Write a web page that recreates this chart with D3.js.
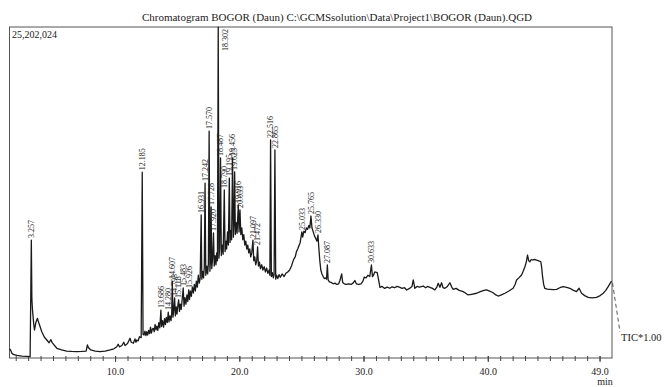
<!DOCTYPE html>
<html>
<head>
<meta charset="utf-8">
<script src="https://cdn.jsdelivr.net/npm/d3@7"></script>
<style>
  html, body { margin: 0; padding: 0; background: #fff; }
  svg { display: block; }
</style>
</head>
<body>
<div id="chart"></div>
<script>
const chartTitle = 'Chromatogram BOGOR (Daun) C:\\GCMSsolution\\Data\\Project1\\BOGOR (Daun).QGD'
const fullScale = 25202024 // counts at top of frame
const timeRange = [1.5, 50.0] // min
const majorTicks = [10, 20, 30, 40, 49]
const majorTickLabels = ['10.0', '20.0', '30.0', '40.0', '49.0']
const traceName = 'TIC*1.00'

// TIC trace: [retention time (min), intensity (x10^6 counts)]
const ticSolvent = [
  [1.50, 0.70], [1.58, 0.62], [1.70, 0.35], [1.85, 0.25], [2.10, 0.20], [2.50, 0.15], [2.90, 0.12],
  [3.16, 0.10], [3.257, 8.98], [3.30, 4.50], [3.35, 3.65], [3.45, 2.60], [3.51, 2.13], [3.62, 2.70],
  [3.75, 3.02], [3.85, 2.70], [4.10, 2.00], [4.30, 1.60], [4.50, 1.37], [4.69, 1.16], [4.83, 1.40],
  [4.95, 1.15], [5.31, 0.74], [5.70, 0.62], [6.10, 0.53], [6.50, 0.50], [6.92, 0.48], [7.30, 0.50],
  [7.67, 0.53], [7.77, 0.99], [7.85, 0.80], [8.04, 0.61], [8.40, 0.52], [8.79, 0.48], [9.20, 0.52],
  [9.60, 0.61], [9.90, 0.70], [10.14, 0.86], [10.25, 1.05], [10.35, 0.85], [10.55, 0.95], [10.70, 1.20],
  [10.80, 0.95], [11.00, 1.10], [11.20, 1.50], [11.30, 1.20], [11.47, 1.12], [11.60, 1.45], [11.68, 1.20],
  [11.75, 1.37], [11.85, 1.30], [11.96, 1.62], [12.10, 1.55],
]
const ticRising = [
  [12.185, 14.15], [12.25, 1.80], [12.33, 1.75], [12.40, 2.05], [12.48, 1.70], [12.55, 2.00], [12.62, 1.75],
  [12.70, 2.10], [12.78, 1.85], [12.85, 2.35], [12.92, 1.90], [13.00, 2.20], [13.08, 2.26], [13.15, 2.00],
  [13.22, 2.55], [13.30, 2.15], [13.36, 2.43], [13.44, 2.10], [13.52, 2.70], [13.60, 2.30], [13.686, 3.65],
  [13.74, 2.40], [13.82, 2.85], [13.90, 2.35], [13.98, 3.00], [14.05, 2.55], [14.12, 3.10], [14.20, 2.70],
  [14.280, 3.50], [14.34, 2.75], [14.42, 3.20], [14.50, 2.85], [14.56, 3.45], [14.607, 5.86], [14.66, 3.10],
  [14.72, 3.60], [14.793, 4.57], [14.85, 3.20], [14.92, 3.90], [14.98, 3.35], [15.05, 4.00], [15.118, 4.42],
  [15.18, 3.55], [15.25, 4.10], [15.32, 3.70], [15.40, 4.45], [15.483, 5.33], [15.55, 3.95], [15.62, 4.60],
  [15.70, 4.10], [15.78, 4.80], [15.85, 4.30], [15.926, 5.18], [15.99, 4.45], [16.06, 5.10], [16.14, 4.70],
  [16.22, 5.40], [16.30, 4.95], [16.38, 5.60], [16.46, 5.10], [16.54, 5.85], [16.62, 5.40], [16.70, 6.30],
  [16.78, 5.70], [16.85, 6.10],
]
const ticCluster = [
  [16.931, 10.89], [16.98, 6.00], [17.05, 6.60], [17.12, 6.10], [17.18, 6.90], [17.242, 13.32], [17.30, 6.30],
  [17.38, 7.00], [17.45, 6.40], [17.51, 7.20], [17.570, 17.28], [17.63, 6.60], [17.68, 7.40], [17.728, 11.50],
  [17.78, 6.80], [17.85, 7.60], [17.920, 9.52], [17.98, 7.00], [18.05, 7.80], [18.12, 7.10], [18.18, 8.00],
  [18.24, 7.40], [18.302, 25.20], [18.36, 7.60], [18.42, 8.40], [18.487, 15.23], [18.55, 7.80], [18.62, 8.60],
  [18.70, 7.90], [18.790, 12.79], [18.85, 8.10], [18.92, 8.90], [18.98, 8.30], [19.05, 9.60], [19.12, 8.60],
  [19.195, 13.70], [19.25, 8.80], [19.32, 9.70], [19.38, 9.00], [19.456, 15.23], [19.52, 9.20], [19.57, 10.20],
  [19.625, 14.16], [19.68, 9.40], [19.75, 10.30], [19.82, 9.50], [19.916, 11.65], [19.98, 9.60], [20.053, 11.27],
  [20.12, 9.40], [20.20, 9.90], [20.28, 9.00], [20.36, 9.40], [20.44, 8.60], [20.52, 8.90], [20.60, 8.30],
  [20.68, 8.60], [20.76, 8.00], [20.84, 8.30], [20.92, 7.70], [21.00, 8.00], [21.097, 8.98], [21.16, 7.40],
  [21.24, 7.70], [21.32, 7.10], [21.40, 7.40], [21.472, 8.45], [21.54, 7.00], [21.62, 7.30], [21.70, 6.80],
  [21.80, 7.10], [21.90, 6.70], [22.00, 6.95], [22.10, 6.55], [22.20, 6.85], [22.30, 6.45], [22.40, 6.70],
  [22.46, 6.30], [22.516, 16.60], [22.58, 6.20], [22.66, 6.50], [22.74, 6.10], [22.80, 6.35], [22.865, 15.84],
  [22.93, 6.00], [23.00, 6.30], [23.10, 6.05], [23.20, 6.35],
]
const ticMiddle = [
  [23.30, 6.15], [23.45, 6.40], [23.60, 6.20], [23.75, 6.45], [23.90, 6.55], [24.05, 6.70], [24.20, 7.00],
  [24.30, 7.30], [24.40, 7.55], [24.50, 7.70], [24.60, 8.10], [24.70, 8.30], [24.80, 8.55], [24.90, 8.80],
  [25.033, 9.60], [25.10, 9.20], [25.20, 9.65], [25.30, 9.55], [25.40, 9.90], [25.50, 9.80], [25.60, 10.10],
  [25.68, 9.90], [25.765, 10.81], [25.85, 9.90], [25.95, 9.60], [26.05, 9.30], [26.15, 9.10], [26.25, 8.90],
  [26.330, 9.37], [26.40, 8.40], [26.48, 7.40], [26.56, 6.70], [26.65, 6.40], [26.75, 6.20], [26.85, 6.05],
  [26.95, 6.10], [27.02, 6.00], [27.087, 7.08], [27.15, 5.95], [27.25, 5.80], [27.40, 5.75], [27.55, 5.65],
  [27.70, 5.70], [27.85, 5.60], [28.00, 5.65], [28.10, 5.90], [28.24, 6.40], [28.32, 5.75], [28.45, 5.65],
  [28.60, 5.60], [28.80, 5.65], [29.00, 5.60], [29.15, 5.70], [29.30, 5.90], [29.42, 5.65], [29.60, 5.60],
  [29.80, 5.65], [29.95, 5.85], [30.05, 6.15], [30.20, 6.10], [30.35, 6.30], [30.50, 6.20], [30.633, 7.08],
  [30.72, 6.20], [30.80, 6.30], [30.90, 6.55], [31.10, 6.50], [31.20, 6.00],
]
const ticLate = [
  [31.32, 5.38], [31.50, 5.45], [31.70, 5.30], [31.90, 5.40], [32.12, 5.31], [32.30, 5.42], [32.50, 5.35],
  [32.70, 5.45], [32.93, 5.38], [33.10, 5.30], [33.30, 5.35], [33.47, 5.18], [33.70, 5.30], [33.90, 5.45],
  [34.00, 5.94], [34.13, 5.31], [34.30, 5.45], [34.50, 5.40], [34.80, 5.48], [35.00, 5.35], [35.15, 5.45],
  [35.34, 5.38], [35.55, 5.30], [35.74, 5.18], [35.90, 5.40], [36.01, 5.69], [36.15, 5.38], [36.28, 5.73],
  [36.40, 5.35], [36.55, 5.31], [36.75, 5.45], [36.95, 5.73], [37.10, 5.40], [37.22, 5.23], [37.45, 5.30],
  [37.70, 5.15], [38.02, 5.05], [38.20, 4.95], [38.42, 4.80], [38.70, 4.85], [39.10, 4.93], [39.40, 5.05],
  [39.70, 5.15], [39.90, 5.18], [40.15, 5.10], [40.43, 4.97], [40.65, 4.80], [40.84, 4.72], [41.10, 4.80],
  [41.38, 4.93], [41.70, 5.10], [42.04, 5.31], [42.20, 5.60], [42.32, 5.94], [42.50, 6.10], [42.72, 6.32],
  [42.85, 6.60], [42.99, 6.95], [43.10, 7.30], [43.20, 7.84], [43.30, 7.40], [43.39, 7.33], [43.50, 7.50],
  [43.60, 7.46], [43.75, 7.50], [43.93, 7.46], [44.10, 7.40], [44.27, 7.33], [44.35, 6.80], [44.41, 6.19],
  [44.50, 5.60], [44.59, 5.31], [44.80, 5.25], [45.00, 5.23], [45.25, 5.20], [45.54, 5.23], [45.80, 5.35],
  [46.07, 5.43], [46.35, 5.38], [46.61, 5.31], [46.90, 5.15], [47.14, 5.05], [47.35, 5.31], [47.55, 4.93],
  [47.80, 4.75], [48.08, 4.62], [48.40, 4.58], [48.75, 4.62], [49.05, 4.75], [49.29, 4.93], [49.50, 5.15],
  [49.69, 5.43], [49.96, 5.86],
]

// labelled peaks (retention time, min)
const peakLabels = [
  '3.257', '12.185', '13.686', '14.280', '14.607', '14.793', '15.118', '15.483', '15.926',
  '16.931', '17.242', '17.570', '17.728', '17.920', '18.302', '18.487', '18.790', '19.195',
  '19.456', '19.625', '19.916', '20.053', '21.097', '21.472', '22.516', '22.865',
  '25.033', '25.765', '26.330', '27.087', '30.633',
]

const width = 667
const height = 387
const frame = { left: 9.5, right: 612, top: 27, bottom: 358 }
const serif = '"Liberation Serif", "DejaVu Serif", serif'
const ink = '#222'

const tic = [...ticSolvent, ...ticRising, ...ticCluster, ...ticMiddle, ...ticLate]

const svg = d3.select('#chart')
  .append('svg')
  .attr('width', width)
  .attr('height', height)
  .style('font-family', serif)

const x = d3.scaleLinear().domain(timeRange).range([frame.left, frame.right])
const y = d3.scaleLinear().domain([0, fullScale / 1e6]).range([frame.bottom, frame.top])

// Title
svg.append('text')
  .attr('x', 337)
  .attr('y', 21)
  .attr('text-anchor', 'middle')
  .attr('font-size', '11px')
  .attr('fill', ink)
  .text(chartTitle)

// Frame
svg.append('rect')
  .attr('x', frame.left)
  .attr('y', frame.top)
  .attr('width', frame.right - frame.left)
  .attr('height', frame.bottom - frame.top)
  .attr('fill', 'none')
  .attr('stroke', '#555')
  .attr('stroke-width', 1)

svg.append('text')
  .attr('x', frame.left + 2.5)
  .attr('y', frame.top + 11)
  .attr('font-size', '10px')
  .attr('fill', ink)
  .text(d3.format(',')(fullScale))

// Minor ticks every minute, crossing the axis line
const minorAxis = svg.append('g')
  .attr('transform', `translate(0,${frame.bottom - 2})`)
  .call(d3.axisBottom(x).tickValues(d3.range(2, 50)).tickSize(5).tickFormat(''))
minorAxis.select('.domain').remove()
minorAxis.selectAll('line').attr('stroke', '#444')

const majorAxis = svg.append('g')
  .attr('transform', `translate(0,${frame.bottom - 2})`)
  .call(d3.axisBottom(x).tickValues(majorTicks).tickSize(6).tickPadding(6)
    .tickFormat((d, i) => majorTickLabels[i]))
majorAxis.select('.domain').remove()
majorAxis.selectAll('line').attr('stroke', '#444')
majorAxis.selectAll('text')
  .attr('font-family', serif)
  .attr('font-size', '10px')
  .attr('fill', ink)

svg.append('text')
  .attr('x', 605)
  .attr('y', 385)
  .attr('text-anchor', 'middle')
  .attr('font-size', '10px')
  .attr('fill', ink)
  .text('min')

// Trace
const line = d3.line()
  .x(d => x(d[0]))
  .y(d => y(d[1]))

svg.append('path')
  .datum(tic)
  .attr('d', line)
  .attr('fill', 'none')
  .attr('stroke', '#1a1a1a')
  .attr('stroke-width', 1.3)
  .attr('stroke-linejoin', 'round')

// Peak labels, rotated, sitting on top of each peak
const peaks = peakLabels.map(label => {
  const t = +label
  const pt = tic.find(d => Math.abs(d[0] - t) < 1e-6)
  return { label, t, v: pt ? pt[1] : 0 }
})

svg.append('g')
  .selectAll('text')
  .data(peaks)
  .join('text')
  .attr('transform', d => {
    const px = x(d.t)
    const py = y(d.v)
    // no room above the tallest peak: put its label beside the line
    if (py - 26 < frame.top) return `translate(${px + 7},${frame.top + 2}) rotate(-90)`
    return `translate(${px},${py - 2}) rotate(-90)`
  })
  .attr('text-anchor', d => y(d.v) - 26 < frame.top ? 'end' : 'start')
  .attr('dy', '0.35em')
  .attr('font-size', '8px')
  .attr('fill', ink)
  .text(d => d.label)

// Trace name with dashed leader
const last = tic[tic.length - 1]
svg.append('line')
  .attr('x1', x(last[0]) + 1)
  .attr('y1', y(last[1]) + 2)
  .attr('x2', 620)
  .attr('y2', 332)
  .attr('stroke', '#555')
  .attr('stroke-width', 1)
  .attr('stroke-dasharray', '4,3')

svg.append('text')
  .attr('x', 621)
  .attr('y', 341)
  .attr('font-size', '10.5px')
  .attr('fill', ink)
  .text(traceName)
</script>
</body>
</html>
